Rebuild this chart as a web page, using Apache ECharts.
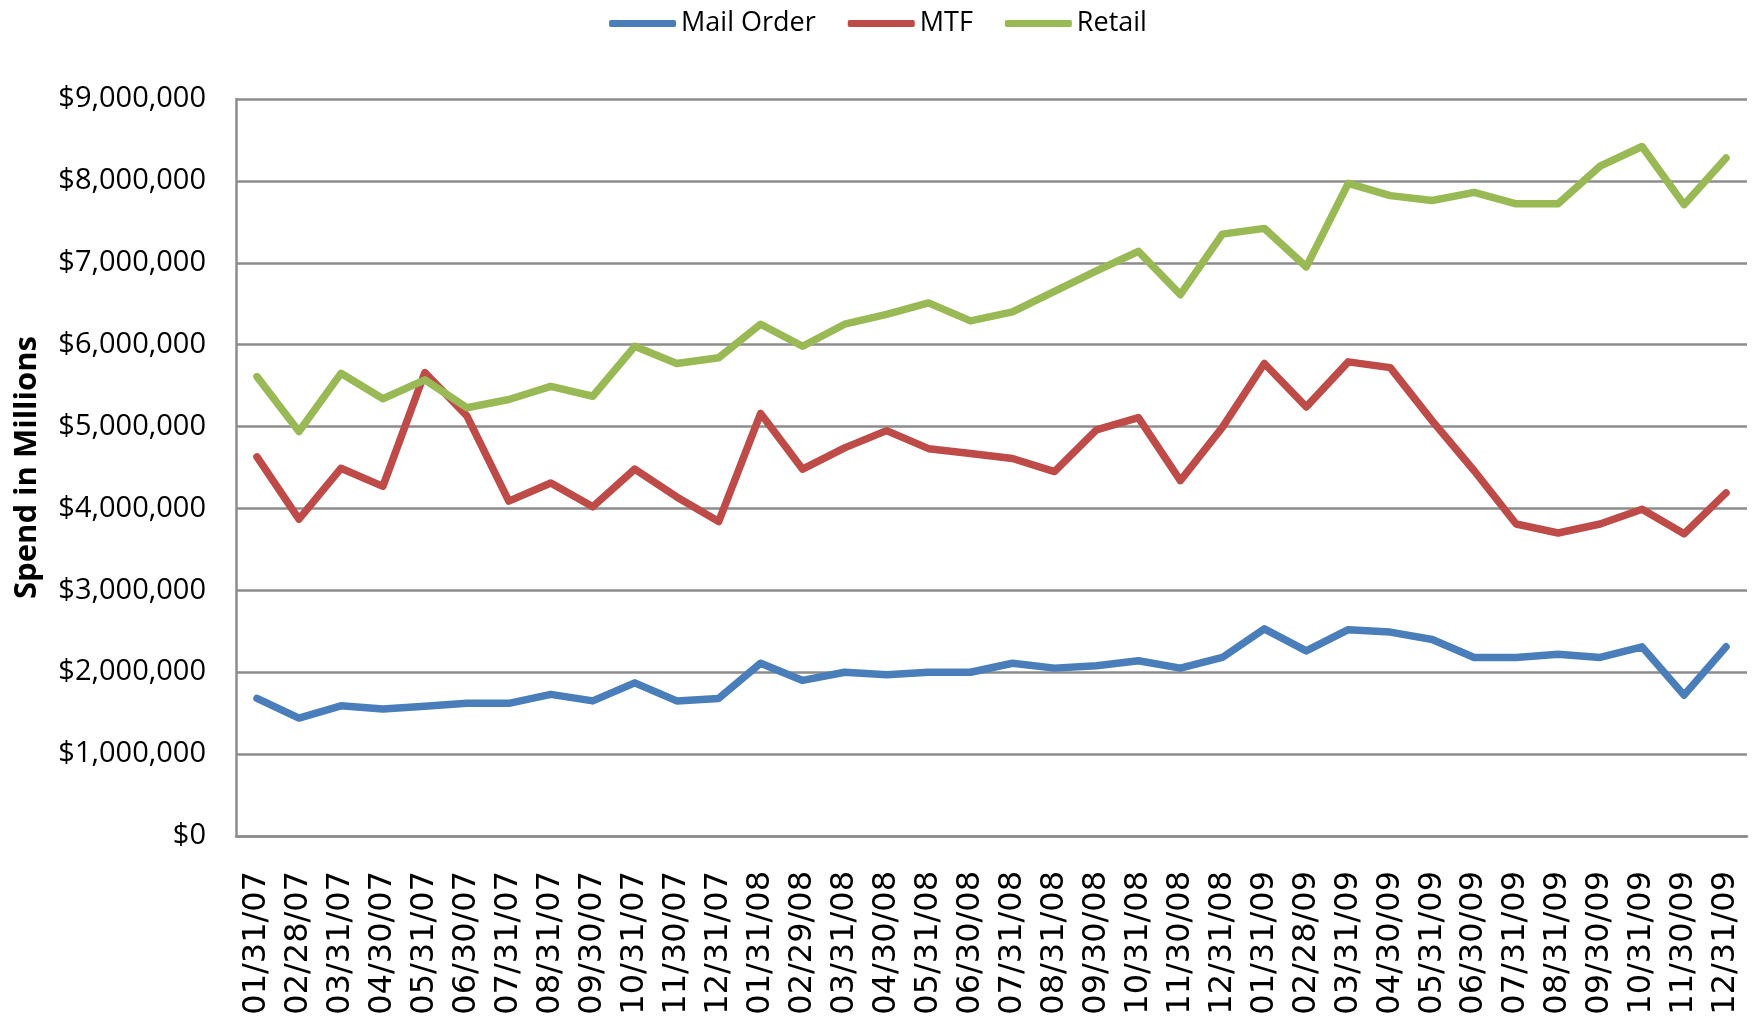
<!DOCTYPE html>
<html>
<head>
<meta charset="utf-8">
<script src="https://cdn.jsdelivr.net/npm/echarts@6/dist/echarts.min.js"></script>
<style>
  html, body { margin: 0; padding: 0; background: #fff; }
  #chart { width: 1756px; height: 1023px; }
</style>
</head>
<body>
<div id="chart"></div>
<script>
// month-end dates
var dates = ['01/31/07','02/28/07','03/31/07','04/30/07','05/31/07','06/30/07','07/31/07','08/31/07','09/30/07','10/31/07','11/30/07','12/31/07',
             '01/31/08','02/29/08','03/31/08','04/30/08','05/31/08','06/30/08','07/31/08','08/31/08','09/30/08','10/31/08','11/30/08','12/31/08',
             '01/31/09','02/28/09','03/31/09','04/30/09','05/31/09','06/30/09','07/31/09','08/31/09','09/30/09','10/31/09','11/30/09','12/31/09'];

var mailOrder = [1680000,1440000,1590000,1550000,1585000,1620000,1620000,1730000,1650000,1870000,1650000,1680000,
                 2110000,1900000,2000000,1970000,2000000,2000000,2110000,2050000,2080000,2140000,2050000,2180000,
                 2530000,2260000,2520000,2490000,2400000,2180000,2180000,2220000,2180000,2310000,1720000,2310000];

var mtf = [4630000,3870000,4490000,4270000,5660000,5130000,4090000,4310000,4020000,4480000,4140000,3840000,
           5160000,4480000,4740000,4950000,4730000,4670000,4610000,4450000,4960000,5110000,4340000,4990000,
           5770000,5240000,5790000,5720000,5070000,4460000,3810000,3700000,3810000,3990000,3690000,4190000];

var retail = [5610000,4940000,5650000,5340000,5570000,5230000,5330000,5490000,5370000,5980000,5770000,5840000,
              6250000,5980000,6250000,6370000,6510000,6290000,6400000,6650000,6900000,7140000,6610000,7350000,
              7420000,6950000,7970000,7820000,7760000,7860000,7720000,7720000,8180000,8420000,7710000,8280000];

var myChart = echarts.init(document.getElementById('chart'));

function lineSeries(name, data, color) {
    return {
        name: name,
        type: 'line',
        data: data,
        symbol: 'none',
        itemStyle: { color: color },
        lineStyle: { color: color, width: 7.5, cap: 'round', join: 'round' }
    };
}

var option = {
    animation: false,
    backgroundColor: '#ffffff',
    legend: {
        top: 5,
        left: 'center',
        icon: 'roundRect',
        itemWidth: 67,
        itemHeight: 7,
        itemGap: 32,
        textStyle: { fontFamily: 'Open Sans', fontSize: 27, color: '#000' },
        data: ['Mail Order', 'MTF', 'Retail']
    },
    grid: {
        left: 236,
        right: 9,
        top: 99,
        bottom: 187,
        outerBoundsMode: 'none',
        containLabel: false
    },
    xAxis: {
        type: 'category',
        boundaryGap: true,
        data: dates,
        axisLine: { lineStyle: { color: '#8c8c8c', width: 2.5 } },
        axisTick: { show: false },
        axisLabel: {
            rotate: 90,
            interval: 0,
            margin: 35,
            fontFamily: 'DejaVu Sans',
            fontSize: 32,
            color: '#000'
        }
    },
    yAxis: {
        type: 'value',
        min: 0,
        max: 9000000,
        interval: 1000000,
        name: 'Spend in Millions',
        nameLocation: 'middle',
        nameRotate: 90,
        nameGap: 193,
        nameTextStyle: { fontFamily: 'Open Sans', fontWeight: 'bold', fontSize: 31, color: '#000' },
        axisLine: { show: true, lineStyle: { color: '#8c8c8c', width: 2.5 } },
        axisTick: { show: false },
        splitLine: { lineStyle: { color: '#8c8c8c', width: 2.5 } },
        axisLabel: {
            margin: 30,
            fontFamily: 'Open Sans',
            fontSize: 29,
            color: '#000',
            formatter: function (v) { return '$' + v.toLocaleString('en-US'); }
        }
    },
    series: [
        lineSeries('Mail Order', mailOrder, '#4a7ebb'),
        lineSeries('MTF', mtf, '#be4b48'),
        lineSeries('Retail', retail, '#98b954')
    ]
};

myChart.setOption(option);
</script>
</body>
</html>
